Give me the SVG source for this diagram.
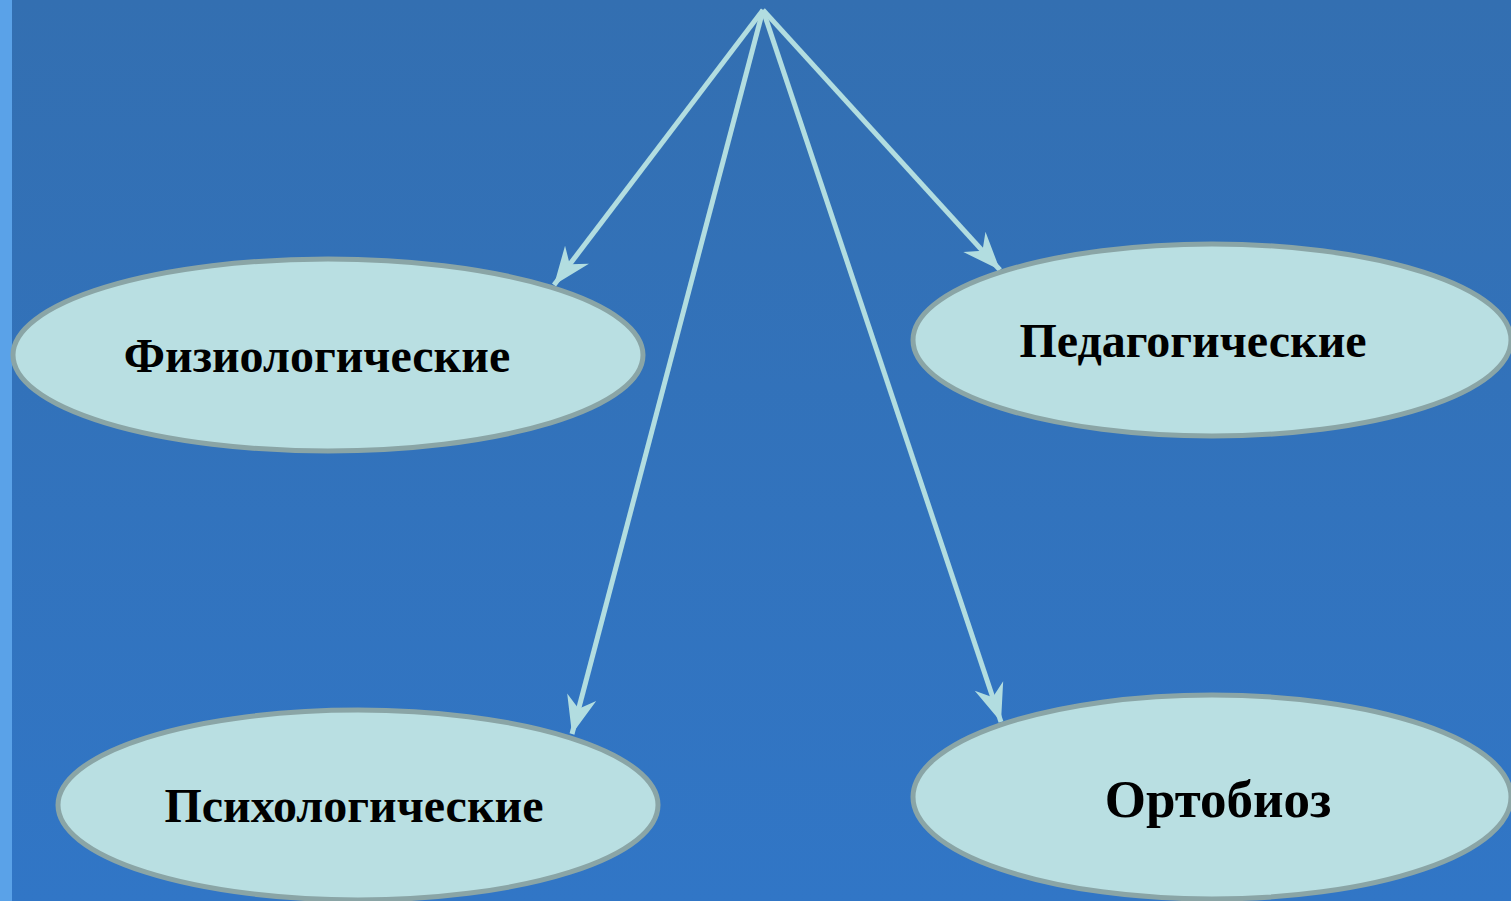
<svg xmlns="http://www.w3.org/2000/svg" width="1511" height="901" viewBox="0 0 1511 901">
<defs>
<linearGradient id="bg" x1="0" y1="0" x2="0" y2="1">
<stop offset="0" stop-color="#336fb1"/>
<stop offset="1" stop-color="#3176c6"/>
</linearGradient>
<marker id="ah" markerUnits="userSpaceOnUse" markerWidth="50" markerHeight="40" viewBox="-40 -20 42 40" refX="0" refY="0" orient="auto">
<path d="M0,0 L-38,-15 L-26,0 L-38,15 Z" fill="#b2dde0"/>
</marker>
<style>
.node ellipse{fill:#b9dfe2;stroke:#8aa5a6;stroke-width:5}
.node text{font-family:"Liberation Serif","Times New Roman",serif;font-weight:bold;fill:#000;text-anchor:middle}
.edge{stroke:#b2dde0;stroke-width:5;fill:none;marker-end:url(#ah)}
</style>
</defs>
<rect width="1511" height="901" fill="url(#bg)"/>
<rect width="12" height="901" fill="#5aa2e8"/>
<g id="connectors">
<line class="edge" x1="763" y1="10" x2="554" y2="285"/>
<line class="edge" x1="763" y1="10" x2="1000" y2="270"/>
<line class="edge" x1="763" y1="10" x2="572" y2="734"/>
<line class="edge" x1="763" y1="10" x2="1001" y2="722"/>
</g>
<g id="n-fiziol" class="node">
<ellipse cx="328" cy="355" rx="315" ry="96"/>
<text x="317" y="372" font-size="48">Физиологические</text>
</g>
<g id="n-pedag" class="node">
<ellipse cx="1212" cy="340" rx="299" ry="96"/>
<text x="1193" y="357" font-size="48">Педагогические</text>
</g>
<g id="n-psih" class="node">
<ellipse cx="358" cy="805" rx="300" ry="95"/>
<text x="354" y="822" font-size="48">Психологические</text>
</g>
<g id="n-orto" class="node">
<ellipse cx="1212" cy="797" rx="299" ry="102"/>
<text x="1218" y="817" font-size="53">Ортобиоз</text>
</g>
</svg>
